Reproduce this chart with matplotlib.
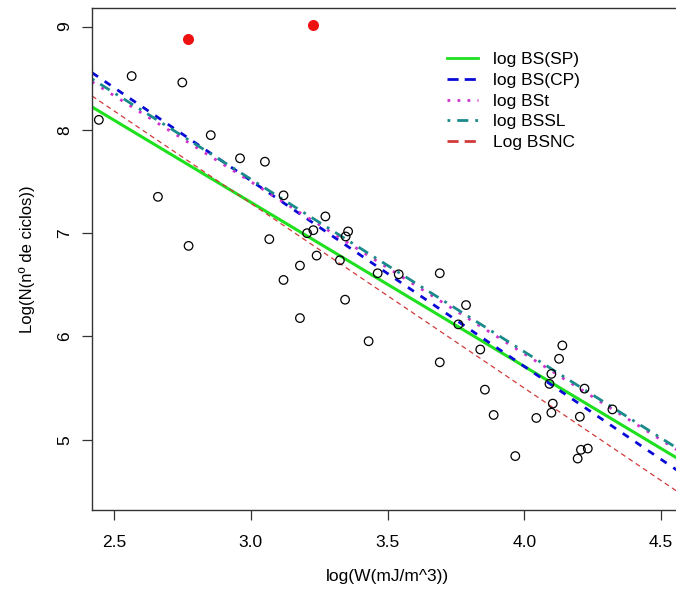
import numpy as np
import matplotlib
matplotlib.use("Agg")
import matplotlib.pyplot as plt
from matplotlib.lines import Line2D

plt.rcParams['font.family'] = ['Liberation Sans', 'DejaVu Sans']

# ---- data ----
x_open = [2.445, 2.565, 2.750, 2.854, 2.961, 3.052, 2.661, 3.120, 3.273, 3.206,
          3.229, 3.356, 3.347, 3.068, 2.773, 3.241, 3.180, 3.326, 3.120, 3.464,
          3.541, 3.691, 3.345, 3.180, 3.787, 3.759, 3.431, 3.839, 3.691, 3.856,
          4.139, 4.127, 4.099, 4.092, 4.220, 4.322, 4.104, 4.099, 3.888, 4.044,
          4.203, 4.232, 4.207, 4.195, 3.967]
y_open = [8.097, 8.521, 8.459, 7.949, 7.725, 7.692, 7.352, 7.366, 7.162, 7.000,
          7.029, 7.017, 6.968, 6.942, 6.877, 6.783, 6.686, 6.738, 6.547, 6.612,
          6.602, 6.612, 6.356, 6.178, 6.304, 6.117, 5.954, 5.874, 5.750, 5.485,
          5.913, 5.784, 5.638, 5.541, 5.495, 5.294, 5.350, 5.262, 5.240, 5.211,
          5.223, 4.915, 4.903, 4.818, 4.842]
x_out = [2.772, 3.229]
y_out = [8.88, 9.02]

line_labels = ["log BS(SP)", "log BS(CP)", "log BSt", "log BSSL", "Log BSNC"]
intercepts = [12.07, 12.91, 12.50, 12.54, 12.66]
slopes = [-1.59, -1.80, -1.667, -1.672, -1.79]
colors = ["#1fe01f", "#0a0ad8", "#d030d0", "#1a8a8a", "#d03a3a"]
styles = ["-", (0, (2.6, 2.9)), (0, (1, 3)), (0, (1, 2.5, 4, 2.5)), (0, (4, 3))]
legend_styles = ["-", (0, (4, 2.2)), (0, (1, 2.6)), (0, (1, 2.5, 4, 2.5)), (0, (4, 2.2))]
widths = [2.2, 2.0, 2.0, 2.0, 0.9]

xlim = (2.42, 4.58)
ylim = (4.32, 9.18)
xticks = [2.5, 3.0, 3.5, 4.0, 4.5]
xticklabels = ["2.5", "3.0", "3.5", "4.0", "4.5"]
yticks = [5, 6, 7, 8, 9]
yticklabels = ["5", "6", "7", "8", "9"]

fig = plt.figure(figsize=(6.76, 6.00), dpi=100)
ax = fig.add_axes([92/676, 90/600, 591/676, 502/600])

for b, m, c, ls, lw in zip(intercepts, slopes, colors, styles, widths):
    xs = np.array(xlim)
    ax.plot(xs, b + m * xs, color=c, linestyle=ls, lw=lw, zorder=2)

ax.scatter(x_open, y_open, s=38, facecolors='none', edgecolors='black',
           linewidths=0.9, zorder=3)
ax.scatter(x_out, y_out, s=48, color='#ee1111', zorder=3)

ax.set_xlim(*xlim)
ax.set_ylim(*ylim)
ax.set_xticks(xticks)
ax.set_xticklabels(xticklabels)
ax.set_yticks(yticks)
ax.set_yticklabels(yticklabels)
ax.tick_params(axis='both', length=7.2, width=0.9, labelsize=12.5, color='#333333')
ax.tick_params(axis='x', pad=11)
ax.tick_params(axis='y', pad=7)
for lab in ax.get_yticklabels():
    lab.set_rotation(90)
    lab.set_va('center')
for sp in ax.spines.values():
    sp.set_color('#333333')
    sp.set_linewidth(1.0)

ax.set_xlabel("log(W(mJ/m^3))", fontsize=12.5)
ax.set_ylabel("Log(N(nº de ciclos))", fontsize=12)
ax.xaxis.set_label_coords(0.5, -0.118)
ax.yaxis.set_label_coords(-0.0964, 0.5)

handles = [Line2D([], [], color=c, linestyle=ls, lw=2.0)
           for c, ls in zip(colors, legend_styles)]
ax.legend(handles, line_labels, loc='upper left', bbox_to_anchor=(0.6007, 0.912),
          frameon=False, fontsize=12.5, borderpad=0, borderaxespad=0,
          handlelength=1.8, handletextpad=0.86, labelspacing=0.32)

fig.savefig("out.png", dpi=100)
